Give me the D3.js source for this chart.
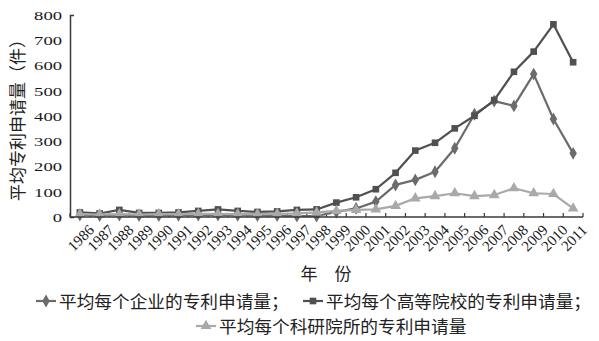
<!DOCTYPE html>
<html>
<head>
<meta charset="utf-8">
<script src="https://cdn.jsdelivr.net/npm/d3@7"></script>
<style>
  html, body { margin: 0; padding: 0; background: #fff; }
  svg { display: block; }
</style>
</head>
<body>
<svg id="chart" width="599" height="341"></svg>
<script>
// Years on the category axis
const years = ["1986","1987","1988","1989","1990","1991","1992","1993","1994","1995","1996","1997","1998",
  "1999","2000","2001","2002","2003","2004","2005","2006","2007","2008","2009","2010","2011"];

// Average patent applications per enterprise
const enterprise = [8, 6, 8, 6, 6, 7, 8, 8, 7, 6, 6, 4, 4,
  20, 34, 61, 127, 147, 179, 272, 407, 459, 440, 566, 388, 252];

// Average patent applications per university
const university = [18, 14, 28, 16, 16, 18, 24, 30, 24, 20, 22, 28, 30,
  57, 78, 110, 175, 263, 294, 351, 401, 463, 575, 655, 763, 613];

// Average patent applications per research institute
const institute = [11, 10, 11, 10, 11, 11, 12, 12, 11, 11, 12, 14, 18,
  24, 28, 30, 44, 74, 83, 94, 83, 87, 114, 94, 91, 34];

const yTicks = [0, 100, 200, 300, 400, 500, 600, 700, 800];

const series = [
  { name: "平均每个企业的专利申请量；", values: enterprise, color: "#6b6b6b", symbol: d3.symbolDiamond, size: 48 },
  { name: "平均每个高等院校的专利申请量；", values: university, color: "#505050", symbol: d3.symbolSquare, size: 44 },
  { name: "平均每个科研院所的专利申请量", values: institute, color: "#a9a9a9", symbol: d3.symbolTriangle, size: 50 }
];

const svg = d3.select("#chart");
const serif = "'Liberation Serif', 'DejaVu Serif', serif";
const cjk = "'Noto Sans CJK SC', 'Noto Sans', sans-serif";
const axisColor = "#3a3a3a";

const plotLeft = 70, plotRight = 583, plotTop = 15, plotBottom = 217;

const x = d3.scaleBand().domain(years).range([plotLeft, plotRight]).padding(0);
const y = d3.scaleLinear().domain([0, 800]).range([plotBottom, plotTop]);
const cx = d => x(d) + x.bandwidth() / 2;

// Y axis
const yAxis = svg.append("g")
  .attr("transform", `translate(${plotLeft},0)`)
  .call(d3.axisLeft(y).tickValues(yTicks).tickSizeInner(0).tickSizeOuter(-4).tickPadding(8).tickFormat(d3.format("d")));
yAxis.select(".domain").attr("stroke", axisColor).attr("stroke-width", 1.5);
yAxis.selectAll(".tick text")
  .attr("font-family", serif).attr("font-size", 13.5).attr("fill", "#1a1a1a")
  .attr("transform", function () {
    const xx = +d3.select(this).attr("x");
    return `translate(${xx},0) scale(1.38,1) translate(${-xx},0)`;
  });

// Category boundary ticks along the X axis
const boundaries = years.map(d => x(d)).concat([plotRight]);
svg.append("g").selectAll("line").data(boundaries).join("line")
  .attr("x1", d => d).attr("x2", d => d)
  .attr("y1", plotBottom).attr("y2", plotBottom - 4)
  .attr("stroke", axisColor).attr("stroke-width", 1.2);

// Series lines and markers
series.forEach(s => {
  const line = d3.line().x((d, i) => cx(years[i])).y(d => y(d));
  svg.append("path")
    .datum(s.values)
    .attr("d", line)
    .attr("fill", "none")
    .attr("stroke", s.color)
    .attr("stroke-width", 2.2)
    .attr("stroke-linejoin", "round");
  svg.append("g").selectAll("path").data(s.values).join("path")
    .attr("d", d3.symbol().type(s.symbol).size(s.size))
    .attr("transform", (d, i) => `translate(${cx(years[i])},${y(d)})`)
    .attr("fill", s.color);
});

// X axis line
svg.append("line")
  .attr("x1", plotLeft).attr("x2", plotRight)
  .attr("y1", plotBottom).attr("y2", plotBottom)
  .attr("stroke", axisColor).attr("stroke-width", 1.6);

// Rotated year labels
svg.append("g").selectAll("text").data(years).join("text")
  .attr("transform", d => `translate(${cx(d) + 1},238) rotate(-45)`)
  .attr("text-anchor", "middle")
  .attr("dominant-baseline", "central")
  .attr("font-family", serif).attr("font-size", 15).attr("fill", "#1a1a1a")
  .text(d => d);

// Axis titles
svg.append("text")
  .attr("transform", "translate(16,116) rotate(-90)")
  .attr("text-anchor", "middle").attr("dominant-baseline", "central")
  .attr("font-family", cjk).attr("font-size", 17).attr("fill", "#222")
  .text("平均专利申请量（件）");

svg.append("text")
  .attr("x", 326).attr("y", 272)
  .attr("text-anchor", "middle").attr("dominant-baseline", "central")
  .attr("font-family", cjk).attr("font-size", 17).attr("fill", "#222")
  .text("年　份");

// Legend
const legendItems = [
  { s: series[0], x: 36, y: 301 },
  { s: series[1], x: 303, y: 301 },
  { s: series[2], x: 196, y: 326 }
];
const legend = svg.append("g");
legendItems.forEach(item => {
  const g = legend.append("g").attr("transform", `translate(${item.x},${item.y})`);
  g.append("line").attr("x1", 0).attr("x2", 20).attr("y1", 0).attr("y2", 0)
    .attr("stroke", item.s.color).attr("stroke-width", 2.2);
  g.append("path").attr("d", d3.symbol().type(item.s.symbol).size(item.s.size))
    .attr("transform", "translate(10,0)").attr("fill", item.s.color);
  g.append("text").attr("x", 23).attr("y", 0)
    .attr("dominant-baseline", "central")
    .attr("font-family", cjk).attr("font-size", 17).attr("fill", "#222")
    .attr("transform", "translate(23,0) scale(1.04,1) translate(-23,0)")
    .text(item.s.name);
});
</script>
</body>
</html>
